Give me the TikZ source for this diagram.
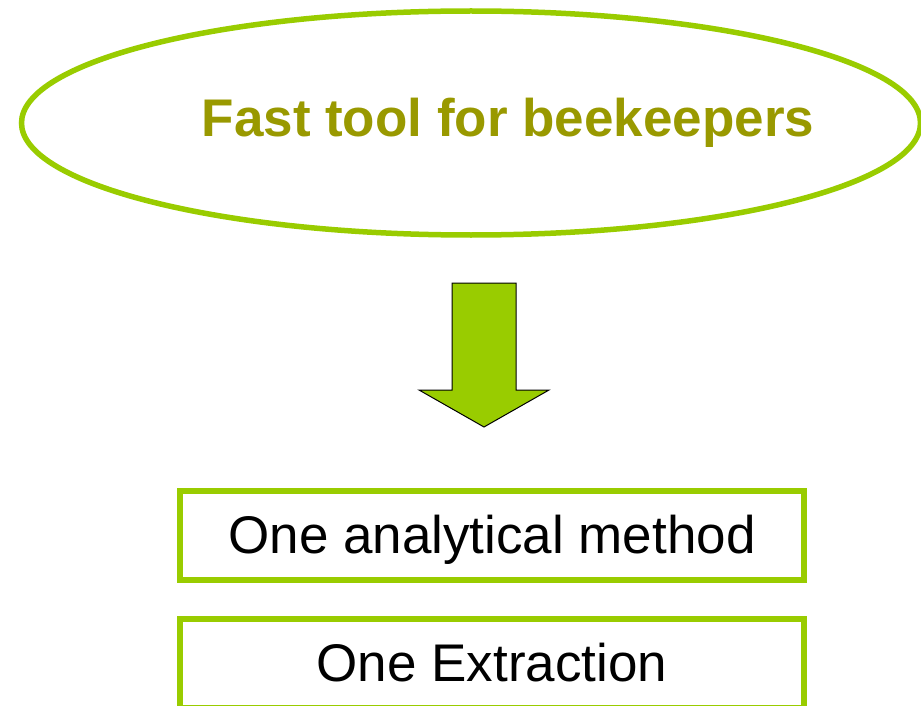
\documentclass[tikz,border=0pt]{standalone}
\usepackage{fontspec}
\setmainfont{Liberation Sans}
\usetikzlibrary{shapes.geometric}
\definecolor{lgreen}{HTML}{99CC00}
\definecolor{olive}{HTML}{999900}
\tikzset{
  greenline/.style={draw=lgreen, line width=5.5pt},
  boxnode/.style={greenline, rectangle, minimum width=624pt, minimum height=89pt, inner sep=0pt},
  bigtext/.style={font=\fontsize{53}{60}\selectfont, inner sep=0pt, anchor=base},
  bigarrow/.style={fill=lgreen, draw=black, line width=1pt, line join=miter}
}
\begin{document}
\begin{tikzpicture}[x=1pt,y=-1pt]
\useasboundingbox (0,0) rectangle (921,706);
% ellipse
\node[greenline, ellipse, minimum width=899pt, minimum height=224pt, inner sep=0pt] (ell) at (471,123) {};
\node[bigtext, text=olive, font=\fontsize{53}{60}\selectfont\bfseries] (title) at (508,137) {Fast tool for beekeepers};
% arrow
\draw[bigarrow] (452,283) -- (516,283) -- (516,390) -- (549,390) -- (484,427) -- (419,390) -- (452,390) -- cycle;
% boxes
\node[boxnode] (box1) at (492,535.5) {};
\node[bigtext] (t1) at (492,553) {One analytical method};
\node[boxnode] (box2) at (492,663.5) {};
\node[bigtext] (t2) at (492,681) {One Extraction};
\end{tikzpicture}
\end{document}
